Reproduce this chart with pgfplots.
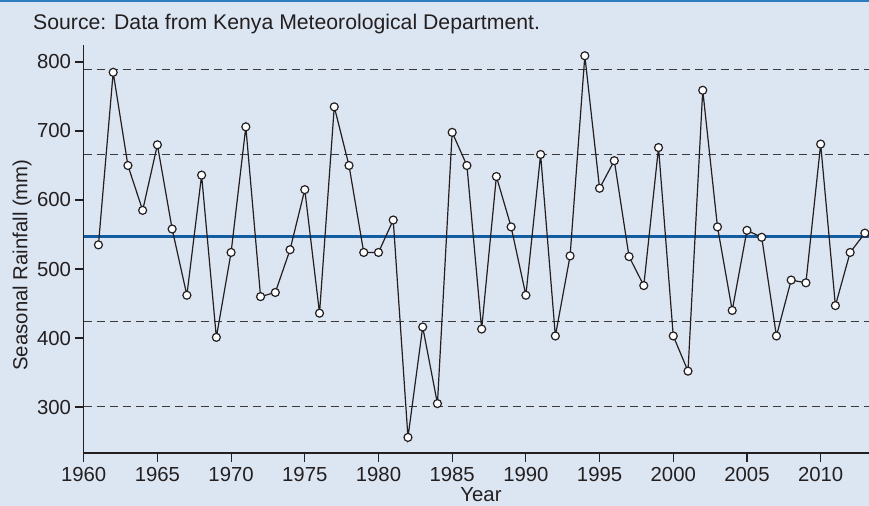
\documentclass[border=0pt]{standalone}
\usepackage{pgfplots}
\pgfplotsset{compat=1.18}
\usepackage{fontspec}
\setmainfont{Liberation Sans}
\definecolor{bgc}{RGB}{220,230,242}
\definecolor{topc}{RGB}{46,125,191}
\definecolor{meanc}{RGB}{18,92,162}
\definecolor{ink}{RGB}{35,31,32}
\definecolor{dashc}{RGB}{58,58,58}
\pgfplotstableread{
year rain
1961 535
1962 785
1963 650
1964 585
1965 680
1966 558
1967 462
1968 636
1969 401
1970 524
1971 706
1972 460
1973 466
1974 528
1975 615
1976 436
1977 735
1978 650
1979 524
1980 524
1981 571
1982 256
1983 416
1984 305
1985 698
1986 650
1987 413
1988 634
1989 561
1990 462
1991 666
1992 403
1993 519
1994 809
1995 617
1996 657
1997 518
1998 476
1999 676
2000 403
2001 352
2002 759
2003 561
2004 440
2005 556
2006 546
2007 403
2008 484
2009 480
2010 681
2011 447
2012 524
2013 552
}\raindata
\begin{document}
\begin{tikzpicture}
\fill[bgc] (-83.7bp,-53bp) rectangle (785.3bp,453bp);
\fill[topc] (-83.7bp,451bp) rectangle (785.3bp,453bp);
\begin{axis}[
  at={(0,0)}, anchor=south west,
  scale only axis,
  width=785.3bp, height=408bp,
  xmin=1960, xmax=2013.28,
  ymin=233.4, ymax=824.6,
  axis x line=bottom, axis y line=left,
  axis line style={ink, line width=1.1bp, -},
  xtick={1960,1965,...,2010},
  ytick={300,400,...,800},
  tick align=outside,
  major tick length=9bp,
  tick style={ink, line width=1.1bp},
  xticklabel style={inner sep=5bp},
  yticklabel style={inner sep=3.5bp},
  /pgf/number format/assume math mode=true,
  /pgf/number format/1000 sep={},
  ticklabel style={font=\fontsize{20.4}{24}\selectfont, text=ink},
  clip=true,
]
\addplot[dashc, line width=1.2bp, dash pattern=on 8bp off 5bp] coordinates {(1960,789) (2014,789)};
\addplot[dashc, line width=1.2bp, dash pattern=on 8bp off 5bp] coordinates {(1960,666) (2014,666)};
\addplot[dashc, line width=1.2bp, dash pattern=on 8bp off 5bp] coordinates {(1960,424.5) (2014,424.5)};
\addplot[dashc, line width=1.2bp, dash pattern=on 8bp off 5bp] coordinates {(1960,301) (2014,301)};
\addplot[meanc, line width=3bp] coordinates {(1960,546.5) (2014,546.5)};
\addplot[ink, line width=1.2bp, mark=*, mark size=4bp, mark options={fill=white, draw=ink, line width=1.2bp}] table[x=year, y=rain] {\raindata};
\end{axis}
\node[anchor=base west, text=ink, font=\fontsize{21.3}{25}\selectfont, inner sep=0pt] at (-50.7bp,423bp) {Source: Data from Kenya Meteorological Department.};
\node[anchor=base, text=ink, font=\fontsize{20.4}{24}\selectfont, inner sep=0pt] at (397.3bp,-48bp) {Year};
\node[rotate=90, anchor=center, text=ink, font=\fontsize{20.4}{24}\selectfont, inner sep=0pt] at (-61.5bp,188bp) {Seasonal Rainfall (mm)};
\pgfresetboundingbox
\path (-83.7bp,-53bp) rectangle (785.3bp,453bp);
\end{tikzpicture}
\end{document}
